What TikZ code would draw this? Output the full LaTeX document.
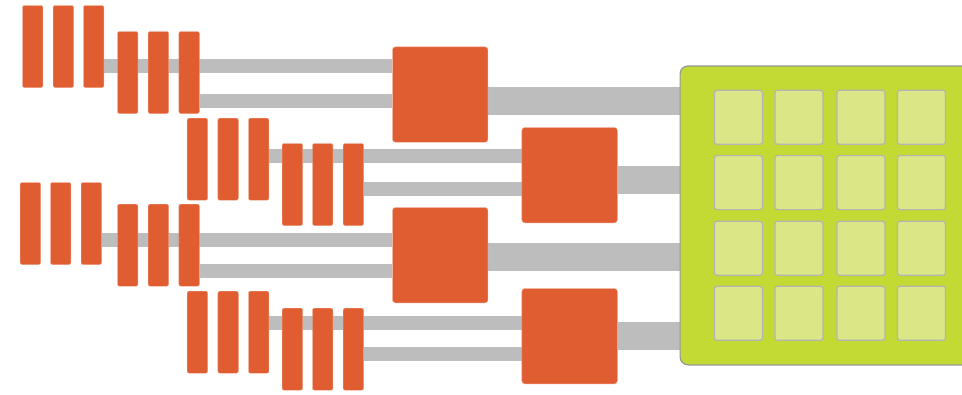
\documentclass[tikz,border=0pt]{standalone}
\usetikzlibrary{backgrounds}
\definecolor{orng}{RGB}{224,93,50}
\definecolor{orngedge}{RGB}{236,150,120}
\definecolor{wire}{RGB}{189,189,189}
\definecolor{panel}{RGB}{195,217,52}
\definecolor{paneledge}{RGB}{150,150,150}
\definecolor{cellfill}{RGB}{219,231,135}
\definecolor{celledge}{RGB}{180,180,180}
\tikzset{
  bar/.style={fill=orng, draw=orngedge, line width=0.4pt, rounded corners=2pt, minimum width=20.4pt, minimum height=82pt, inner sep=0pt, anchor=north west},
  sq/.style={fill=orng, draw=orngedge, line width=0.4pt, rounded corners=3pt, minimum width=95.4pt, minimum height=95.3pt, inner sep=0pt, anchor=north west},
  thinwire/.style={draw=wire, line width=13.8pt},
  thickwire/.style={draw=wire, line width=27.8pt},
  cell/.style={fill=cellfill, draw=celledge, line width=1.2pt, rounded corners=2.5pt, minimum width=48pt, minimum height=54pt, inner sep=0pt, anchor=north west}
}
\begin{document}
\begin{tikzpicture}[x=1pt,y=-1pt]
\useasboundingbox (0,0) rectangle (962,394);
% group A
\node[bar] (a1) at (22.3,5.3) {};
\node[bar] (a2) at (53,5.3) {};
\node[bar] (a3) at (83.3,5.3) {};
\node[bar] (a4) at (117.3,31.3) {};
\node[bar] (a5) at (148,31.3) {};
\node[bar] (a6) at (178.7,31.3) {};
% group B
\node[bar] (b1) at (187,118) {};
\node[bar] (b2) at (217.7,118) {};
\node[bar] (b3) at (248.3,118) {};
\node[bar] (b4) at (282,143.3) {};
\node[bar] (b5) at (312.3,143.3) {};
\node[bar] (b6) at (343,143.3) {};
% group C
\node[bar] (c1) at (20,182.3) {};
\node[bar] (c2) at (50.3,182.3) {};
\node[bar] (c3) at (81,182.3) {};
\node[bar] (c4) at (117.3,204) {};
\node[bar] (c5) at (148,204) {};
\node[bar] (c6) at (178.7,204) {};
% group D
\node[bar] (d1) at (187,291) {};
\node[bar] (d2) at (217.7,291) {};
\node[bar] (d3) at (248.3,291) {};
\node[bar] (d4) at (282,308) {};
\node[bar] (d5) at (312.3,308) {};
\node[bar] (d6) at (343,308) {};
% squares
\node[sq] (A1) at (392.3,46.7) {};
\node[sq] (B1) at (521.7,127.3) {};
\node[sq] (A2) at (392.3,207.3) {};
\node[sq] (B2) at (521.7,288.3) {};
% panel
\node[fill=panel, draw=paneledge, line width=1.2pt, rounded corners=8pt, minimum width=300pt, minimum height=299pt, inner sep=0pt, anchor=north west] (P) at (679.5,65.3) {};
% cells
\foreach \r/\y in {1/89.7,2/155,3/220.7,4/285.7}{
  \foreach \c/\x in {1/713.8,2/774.3,3/836.3,4/896.8}{
    \node[cell] (cell\r\c) at (\x,\y) {};
  }
}
\begin{pgfonlayer}{background}
\draw[thinwire] (a3.east |- 0,65.8) -- (A1.west |- 0,65.8);
\draw[thinwire] (a6.east |- 0,100.8) -- (A1.west |- 0,100.8);
\draw[thinwire] (b3.east |- 0,155.8) -- (B1.west |- 0,155.8);
\draw[thinwire] (b6.east |- 0,189) -- (B1.west |- 0,189);
\draw[thinwire] (c3.east |- 0,239.8) -- (A2.west |- 0,239.8);
\draw[thinwire] (c6.east |- 0,270.8) -- (A2.west |- 0,270.8);
\draw[thinwire] (d3.east |- 0,323) -- (B2.west |- 0,323);
\draw[thinwire] (d6.east |- 0,353.7) -- (B2.west |- 0,353.7);
\draw[thickwire] (A1.east |- 0,101) -- (P.west |- 0,101);
\draw[thickwire] (B1.east |- 0,179.7) -- (P.west |- 0,179.7);
\draw[thickwire] (A2.east |- 0,256.7) -- (P.west |- 0,256.7);
\draw[thickwire] (B2.east |- 0,335.8) -- (P.west |- 0,335.8);
\end{pgfonlayer}
\end{tikzpicture}
\end{document}
